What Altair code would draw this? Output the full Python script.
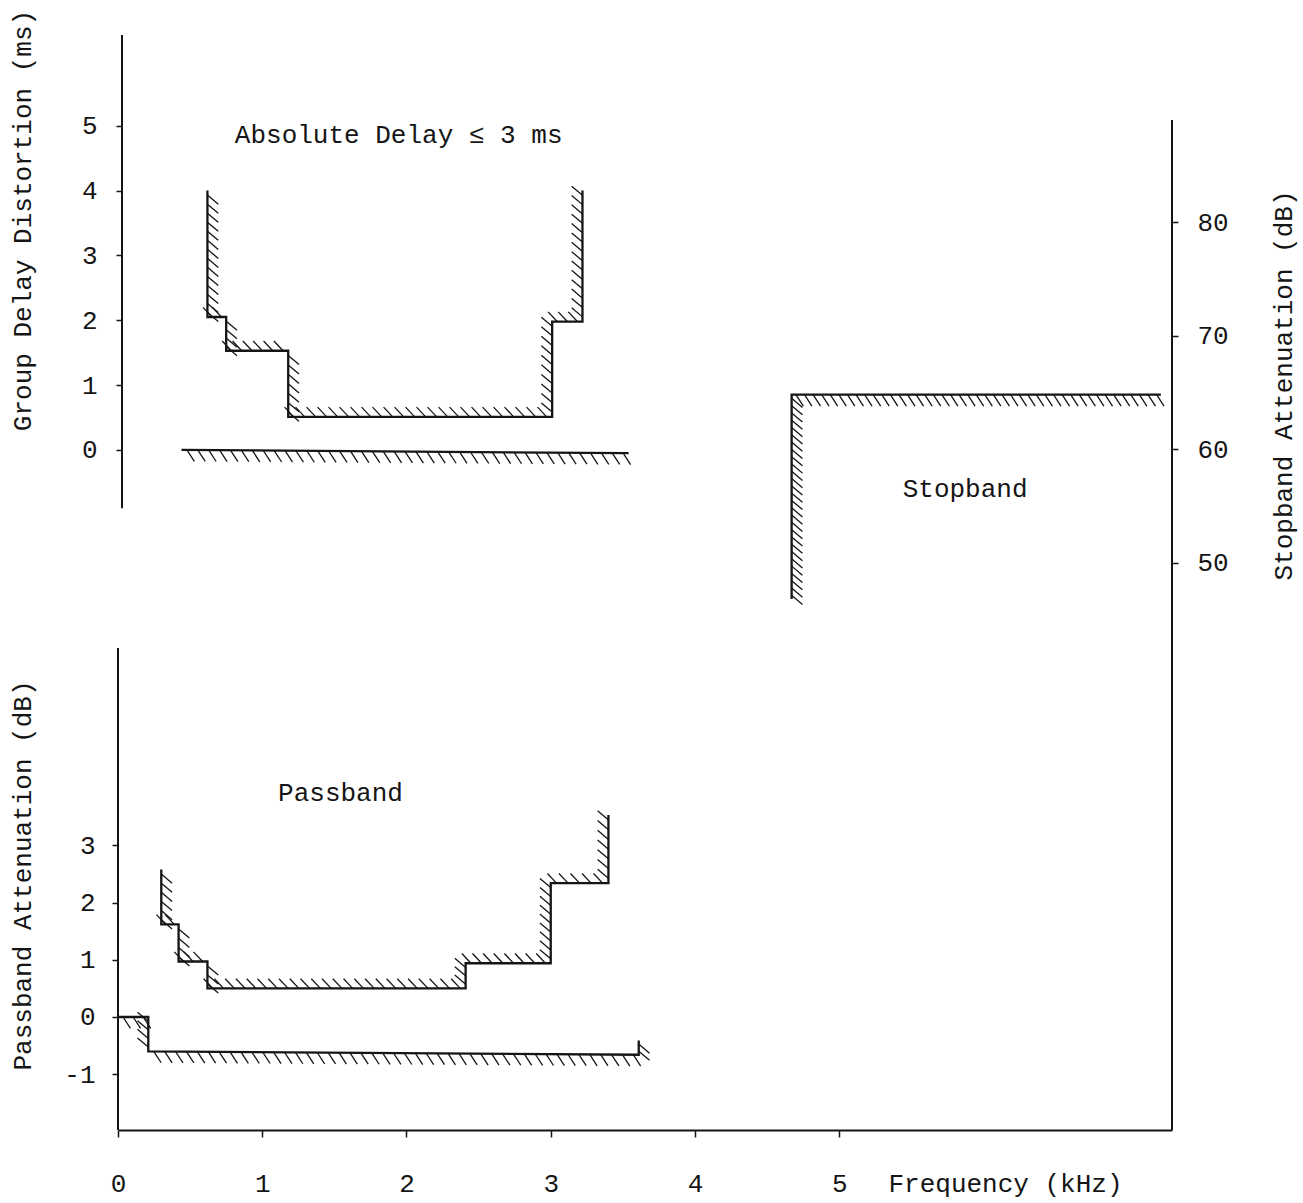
import altair as alt
import pandas as pd

FONT = "Liberation Mono"
INK = "#151515"

# ---------------- data ----------------
# Group delay distortion mask (ms) vs frequency (kHz)
gd_upper_f = [0.62, 0.62, 0.75, 0.75, 1.18, 1.18, 3.01, 3.01, 3.22, 3.22]
gd_upper_v = [4.0, 2.05, 2.05, 1.53, 1.53, 0.51, 0.51, 1.98, 1.98, 4.0]
gd_lower_f = [0.44, 3.54]
gd_lower_v = [0.0, -0.05]

# Passband attenuation mask (dB)
pb_upper_f = [0.30, 0.30, 0.42, 0.42, 0.62, 0.62, 2.41, 2.41, 3.00, 3.00, 3.40, 3.40]
pb_upper_v = [2.58, 1.62, 1.62, 0.97, 0.97, 0.50, 0.50, 0.94, 0.94, 2.34, 2.34, 3.53]
pb_lower_f = [0.0, 0.21, 0.21, 3.61, 3.61]
pb_lower_v = [0.0, 0.0, -0.60, -0.66, -0.41]

# Stopband attenuation mask (dB)
sb_f = [4.67, 4.67, 7.23]
sb_v = [46.8, 64.8, 64.8]

# ticks
x_ticks = [0, 1, 2, 3, 4, 5]
gd_ticks = [0, 1, 2, 3, 4, 5]
pb_ticks = [-1, 0, 1, 2, 3]
sb_ticks = [50, 60, 70, 80]

# annotations
gd_note = {"text": "Absolute Delay \u2264 3 ms", "f": 0.81, "v": 4.85}
pb_note = {"text": "Passband", "f": 1.11, "v": 3.92}
sb_note = {"text": "Stopband", "f": 5.44, "v": 56.5}

# axis extents
gd_axis_span = [-0.9, 6.4]
pb_axis_span = [-1.976, 6.45]
sb_axis_span = [0, 89]

# ---------------- layout ----------------
W, H = 1054, 1095
x_scale = alt.Scale(domain=[0, 7.307], nice=False, zero=False)
gd_scale = alt.Scale(domain=[-10.49, 6.40], nice=False, zero=False)
pb_scale = alt.Scale(domain=[-1.976, 17.17], nice=False, zero=False)
sb_scale = alt.Scale(domain=[0, 96.5], nice=False, zero=False)

SHAPES = {
    (0, 1): "M0,0L0.65,1",        # below
    (0, -1): "M0,0L-0.8,-0.85",   # above
    (1, 0): "M0,0L0.95,0.8",      # right
    (-1, 0): "M0,0L-0.95,-0.8",   # left
}


def mask_df(fs, vs, name):
    return pd.DataFrame({"f": fs, "v": vs, "i": range(len(fs)), "mask": name})


def hatch_df(fs, vs, side, step_f, step_v):
    rows = []
    for k in range(len(fs) - 1):
        f0, v0, f1, v1 = fs[k], vs[k], fs[k + 1], vs[k + 1]
        if abs(f1 - f0) > 1e-9:
            d = (1 if f1 > f0 else -1, 0)
            n = max(1, int(round(abs(f1 - f0) / step_f)))
        else:
            d = (0, -1 if v1 > v0 else 1)
            n = max(1, int(round(abs(v1 - v0) / step_v)))
        if side == "L":
            nrm = (d[1], -d[0])
        else:
            nrm = (-d[1], d[0])
        for j in range(n):
            t = (j + 0.5) / n
            rows.append({"f": f0 + (f1 - f0) * t, "v": v0 + (v1 - v0) * t,
                         "shape": SHAPES[nrm]})
    return pd.DataFrame(rows)


common = dict(labelFont=FONT, labelFontSize=26, labelColor=INK,
              titleFont=FONT, titleFontSize=26, titleFontWeight="normal",
              titleColor=INK, tickColor=INK, tickWidth=1.5, grid=False,
              labelExpr="'' + datum.value")

x_axis = alt.Axis(orient="bottom", values=x_ticks, domain=True, domainColor=INK,
                  domainWidth=2, tickSize=7, labelPadding=46,
                  labelBaseline="middle", labelAlign="center",
                  title="Frequency (kHz)", titleX=887, titleY=53,
                  titleAlign="center", titleBaseline="middle", titleAngle=0,
                  **common)
gd_axis = alt.Axis(orient="left", values=gd_ticks, domain=False, offset=-4,
                   tickSize=6, labelPadding=19, labelAlign="right",
                   labelBaseline="middle", title="Group Delay Distortion (ms)",
                   titleAngle=270, titleX=-100, titleY=185, titleAlign="center",
                   titleBaseline="middle", **common)
pb_axis = alt.Axis(orient="left", values=pb_ticks, domain=False,
                   tickSize=6, labelPadding=17, labelAlign="right",
                   labelBaseline="middle", title="Passband Attenuation (dB)",
                   titleAngle=270, titleX=-96, titleY=840, titleAlign="center",
                   titleBaseline="middle", **common)
sb_axis = alt.Axis(orient="right", values=sb_ticks, domain=False,
                   tickSize=6, labelPadding=19, labelAlign="left",
                   labelBaseline="middle", title="Stopband Attenuation (dB)",
                   titleAngle=270, titleX=111, titleY=350, titleAlign="center",
                   titleBaseline="middle", **common)


def X():
    return alt.X("f:Q", scale=x_scale, axis=x_axis)


def panel(masks, hatches, note, yscale, yaxis, span, axis_x):
    mdf = pd.concat(masks, ignore_index=True)
    hdf = pd.concat(hatches, ignore_index=True)
    line = alt.Chart(mdf).mark_line(color=INK, strokeWidth=2.3, strokeJoin="miter").encode(
        x=X(),
        y=alt.Y("v:Q", scale=yscale, axis=yaxis),
        detail="mask:N",
        order="i:Q",
    )
    hatch = alt.Chart(hdf).mark_point(filled=False, stroke=INK, strokeWidth=1.3,
                                      opacity=1, size=520).encode(
        x=X(),
        y=alt.Y("v:Q", scale=yscale, axis=None),
        shape=alt.Shape("shape:N", scale=None),
    )
    text = alt.Chart(pd.DataFrame([note])).mark_text(
        align="left", baseline="middle", font=FONT, fontSize=26, color=INK
    ).encode(
        x=X(),
        y=alt.Y("v:Q", scale=yscale, axis=None),
        text="text:N",
    )
    axline = alt.Chart(pd.DataFrame({"a": [span[0]], "b": [span[1]]})).mark_rule(
        color=INK, strokeWidth=2
    ).encode(
        x=alt.value(axis_x),
        y=alt.Y("a:Q", scale=yscale, axis=None),
        y2="b:Q",
    )
    return [line, hatch, text, axline]


gd = panel(
    [mask_df(gd_upper_f, gd_upper_v, "u"), mask_df(gd_lower_f, gd_lower_v, "l")],
    [hatch_df(gd_upper_f, gd_upper_v, "L", 0.075, 0.14),
     hatch_df(gd_lower_f, gd_lower_v, "R", 0.075, 0.14)],
    gd_note, gd_scale, gd_axis, gd_axis_span, 4,
)
pb = panel(
    [mask_df(pb_upper_f, pb_upper_v, "u"), mask_df(pb_lower_f, pb_lower_v, "l")],
    [hatch_df(pb_upper_f, pb_upper_v, "L", 0.075, 0.16),
     hatch_df(pb_lower_f, pb_lower_v, "R", 0.075, 0.16)],
    pb_note, pb_scale, pb_axis, pb_axis_span, 0,
)
sb = panel(
    [mask_df(sb_f, sb_v, "s")],
    [hatch_df(sb_f, sb_v, "R", 0.06, 0.65)],
    sb_note, sb_scale, sb_axis, sb_axis_span, W,
)

chart = alt.layer(*(gd + pb + sb)).resolve_scale(y="independent").properties(
    width=W, height=H,
    padding={"left": 118, "top": 35, "right": 131, "bottom": 73},
    autosize=alt.AutoSizeParams(type="none"),
    background="white",
).configure_view(stroke=None)

chart.save("out.html", embed_options={"renderer": "svg", "actions": False})
